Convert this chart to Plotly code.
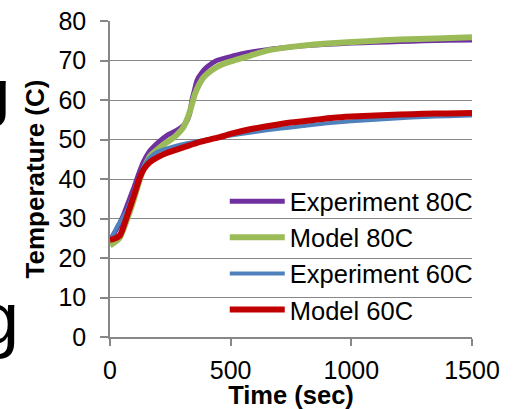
import plotly.graph_objects as go

# ---- data ----
t_exp80 = [0, 20, 40, 60, 80, 100, 120, 140, 166, 200, 235, 276, 305, 318, 330, 339, 350, 360, 380, 401, 442, 500, 539, 600, 700, 800, 900, 1000, 1100, 1200, 1300, 1400, 1500]
T_exp80 = [24.5, 26.5, 28.8, 31.5, 34.8, 38.0, 41.5, 44.5, 47.2, 49.3, 51.0, 52.3, 53.6, 54.6, 56.5, 59.8, 62.5, 64.9, 66.9, 68.3, 70.0, 71.0, 71.6, 72.3, 73.1, 73.7, 74.1, 74.4, 74.6, 74.8, 75.0, 75.1, 75.2]

t_mod80 = [0, 20, 41, 69, 97, 124, 150, 166, 207, 235, 263, 290, 304, 320, 332, 352, 370, 387, 410, 442, 480, 525, 580, 650, 720, 788, 900, 1065, 1200, 1350, 1500]
T_mod80 = [23.2, 24.0, 25.2, 29.5, 34.5, 40.0, 44.0, 45.8, 48.0, 49.3, 50.4, 52.0, 53.1, 55.2, 57.3, 61.5, 64.0, 65.7, 67.0, 68.3, 69.4, 70.2, 71.2, 72.5, 73.2, 73.7, 74.3, 74.9, 75.3, 75.6, 75.9]

t_exp60 = [0, 10, 28, 50, 69, 90, 110, 130, 150, 175, 200, 250, 300, 400, 500, 600, 700, 800, 900, 1000, 1100, 1200, 1300, 1400, 1500]
T_exp60 = [25.0, 25.6, 27.8, 30.0, 32.0, 35.2, 38.8, 42.0, 44.3, 46.0, 47.0, 48.0, 48.8, 50.0, 51.0, 51.9, 52.7, 53.4, 54.1, 54.6, 55.0, 55.4, 55.7, 55.9, 56.05]

t_mod60 = [0, 15, 41, 69, 97, 124, 140, 166, 200, 235, 304, 373, 442, 511, 580, 664, 750, 850, 926, 1000, 1100, 1200, 1300, 1400, 1500]
T_mod60 = [24.6, 24.8, 25.7, 30.3, 35.4, 40.5, 42.5, 44.3, 45.6, 46.6, 48.0, 49.4, 50.4, 51.6, 52.6, 53.5, 54.3, 55.0, 55.5, 55.8, 56.1, 56.3, 56.5, 56.6, 56.7]

names = ["Experiment 80C", "Model 80C", "Experiment 60C", "Model 60C"]
colors = ["#7030A0", "#9BBB59", "#4F81BD", "#C00000"]
widths = [5, 6, 4, 6]

x_ticks = [0, 500, 1000, 1500]
y_ticks = [0, 10, 20, 30, 40, 50, 60, 70, 80]

FONT = "Liberation Sans, Arial, sans-serif"
GRID = "#878787"

fig = go.Figure()
series = [(t_exp80, T_exp80), (t_mod80, T_mod80), (t_exp60, T_exp60), (t_mod60, T_mod60)]
for (tx, ty), nm, c, w in zip(series, names, colors, widths):
    fig.add_trace(go.Scatter(
        x=tx, y=ty, name=nm, mode="lines",
        line=dict(color=c, width=w, shape="spline", smoothing=0.6),
    ))

fig.update_layout(
    width=514, height=409,
    margin=dict(l=110, r=42, t=21, b=72, pad=0, autoexpand=False),
    paper_bgcolor="white", plot_bgcolor="white",
    font=dict(family=FONT, size=25, color="black"),
    showlegend=True,
    legend=dict(
        x=0.317, y=0.503, xanchor="left", yanchor="top",
        bgcolor="rgba(0,0,0,0)", borderwidth=0,
        font=dict(family=FONT, size=25.5, color="black"),
        itemwidth=55, tracegroupgap=0,
    ),
    xaxis=dict(
        range=[0, 1500], tickvals=x_ticks, ticktext=[str(v) for v in x_ticks],
        showgrid=False, zeroline=False, automargin=False,
        showline=True, linecolor=GRID, linewidth=1.5,
        ticks="outside", ticklen=7, tickcolor=GRID, tickwidth=1.5,
        ticklabelstandoff=3,
        tickfont=dict(family=FONT, size=25),
        title=dict(text="<b>Time (sec)</b>", font=dict(family=FONT, size=25.5), standoff=5),
    ),
    yaxis=dict(
        range=[0, 80], tickvals=y_ticks, ticktext=[str(v) for v in y_ticks],
        showgrid=True, gridcolor=GRID, gridwidth=1.2,
        zeroline=False, automargin=False,
        showline=True, linecolor=GRID, linewidth=1.5,
        ticks="outside", ticklen=8, tickcolor=GRID, tickwidth=1.5,
        ticklabelstandoff=9,
        tickfont=dict(family=FONT, size=25),
        title=dict(text="<b>Temperature (C)</b>", font=dict(family=FONT, size=26), standoff=6),
    ),
)

# stray slide glyphs cut off at the left edge
fig.add_annotation(text="<b>g</b>", xref="paper", yref="paper", x=-0.27, y=0.771,
                   xanchor="right", yanchor="middle", showarrow=False,
                   font=dict(family=FONT, size=64, color="black"))
fig.add_annotation(text="g", xref="paper", yref="paper", x=-0.247, y=0.058,
                   xanchor="right", yanchor="middle", showarrow=False,
                   font=dict(family=FONT, size=74, color="black"))

fig.write_html("out.html", config={"displayModeBar": False},
               post_script="document.body.style.margin='0px';")
